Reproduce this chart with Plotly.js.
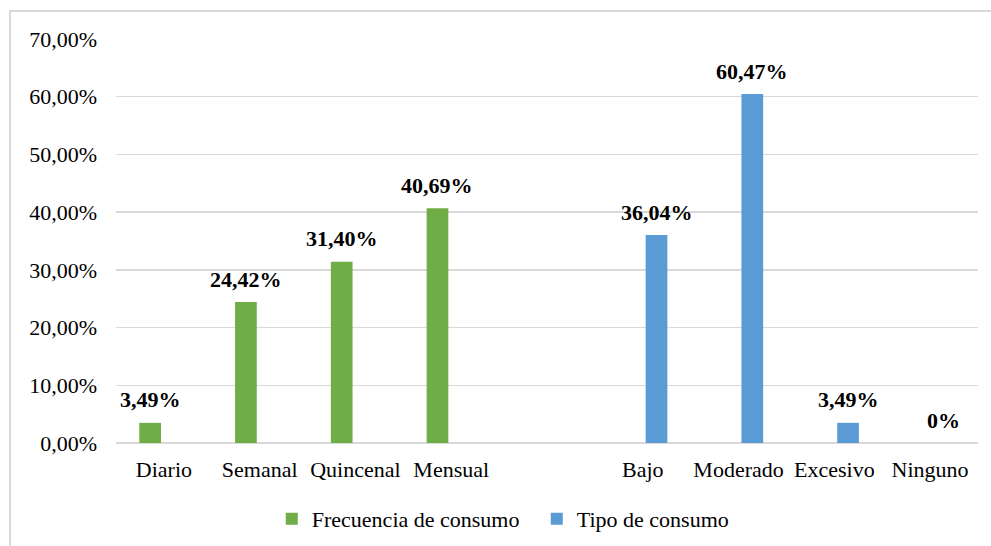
<!DOCTYPE html>
<html>
<head>
<meta charset="utf-8">
<script src="https://cdn.plot.ly/plotly-3.0.1.min.js"></script>
<style>
  html, body { margin: 0; padding: 0; background: #fff; overflow: hidden; }
  #wrap { position: relative; width: 991px; height: 546px; }
  #chart { width: 991px; height: 546px; }
  /* chart-area frame: only its top and left edges fall inside the page */
  #frame {
    position: absolute; left: 9px; top: 10px; width: 1200px; height: 800px;
    border-left: 2px solid #D9D9D9; border-top: 2px solid #D9D9D9;
    pointer-events: none;
  }
</style>
</head>
<body>
<div id="wrap">
  <div id="chart"></div>
  <div id="frame"></div>
</div>
<script>
// Categories along the x axis; the blank entry separates the two groups
const categories = ['Diario', 'Semanal', 'Quincenal', 'Mensual', ' ', 'Bajo', 'Moderado', 'Excesivo', 'Ninguno'];

// Frecuencia de consumo (percent)
const freqCats = ['Diario', 'Semanal', 'Quincenal', 'Mensual'];
const freqValues = [3.49, 24.42, 31.40, 40.69];

// Tipo de consumo (percent)
const tipoCats = ['Bajo', 'Moderado', 'Excesivo', 'Ninguno'];
const tipoValues = [36.04, 60.47, 3.49, 0];

const seriesNames = ['Frecuencia de consumo', 'Tipo de consumo'];
const seriesColors = ['#70AD47', '#5B9BD5'];

const FONT = '"Liberation Serif", "Times New Roman", serif';

function pctLabel(v) {
  return v === 0 ? '0%' : v.toFixed(2).replace('.', ',') + '%';
}

const traces = [
  {
    type: 'bar', name: seriesNames[0], x: freqCats,
    y: freqValues.map(v => v / 100),
    offsetgroup: 'freq',
    marker: { color: seriesColors[0], line: { width: 0 } },
    hoverinfo: 'skip'
  },
  {
    type: 'bar', name: seriesNames[1], x: tipoCats,
    y: tipoValues.map(v => v / 100),
    offsetgroup: 'tipo',
    marker: { color: seriesColors[1], line: { width: 0 } },
    hoverinfo: 'skip'
  }
];

// Bar geometry shared by the layout and the value labels
const BARGAP = 0.426;
const BARGROUPGAP = 0.21;
const margin = { l: 116, r: 13, t: 39, b: 103, autoexpand: false };
const plotW = 991 - margin.l - margin.r;
const slotPx = (plotW / categories.length) * (1 - BARGAP) / 2;

// Value labels sit above each bar, in the bar's own slot of the group
const annotations = [];
[[freqCats, freqValues, -1], [tipoCats, tipoValues, 1]].forEach(([cats, vals, side]) => {
  cats.forEach((c, i) => {
    annotations.push({
      x: c, y: vals[i] / 100, xref: 'x', yref: 'y',
      text: pctLabel(vals[i]),
      showarrow: false, xanchor: 'center', yanchor: 'bottom',
      xshift: side * slotPx / 2, yshift: 8.5,
      font: { family: FONT, size: 22, color: '#000', weight: 'bold' }
    });
  });
});

const layout = {
  width: 991, height: 546,
  margin: margin,
  paper_bgcolor: '#fff', plot_bgcolor: '#fff',
  separators: ',.',
  barmode: 'group',
  bargap: BARGAP,
  bargroupgap: BARGROUPGAP,
  font: { family: FONT, size: 22, color: '#000' },
  xaxis: {
    type: 'category',
    categoryorder: 'array',
    categoryarray: categories,
    range: [-0.5, categories.length - 0.5],
    showgrid: false, zeroline: false, showline: false,
    ticks: '', ticklabelstandoff: 11,
    tickfont: { family: FONT, size: 22, color: '#000' },
    fixedrange: true
  },
  yaxis: {
    range: [0, 0.7],
    dtick: 0.1, tick0: 0,
    tickformat: '.2%',
    showgrid: true, gridcolor: '#D9D9D9', gridwidth: 1.3,
    zeroline: true, zerolinecolor: '#D9D9D9', zerolinewidth: 1.3,
    showline: false, ticks: '', ticklabelstandoff: 18,
    tickfont: { family: FONT, size: 22, color: '#000' },
    fixedrange: true
  },
  showlegend: true,
  legend: {
    orientation: 'h',
    x: 0.1807, xanchor: 'left',
    y: -0.188, yanchor: 'middle',
    entrywidth: 220, entrywidthmode: 'pixels',
    font: { family: FONT, size: 22, color: '#000' },
    bgcolor: 'rgba(0,0,0,0)'
  },
  annotations: annotations
};

Plotly.newPlot('chart', traces, layout, { displayModeBar: false, staticPlot: true });
</script>
</body>
</html>
